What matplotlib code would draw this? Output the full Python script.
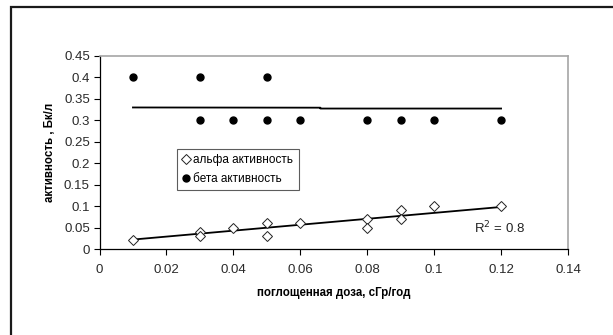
import matplotlib
matplotlib.use('Agg')
import matplotlib.pyplot as plt
import matplotlib.patches as mpatches

plt.rcParams['font.family'] = ['Liberation Sans', 'DejaVu Sans']

# alpha activity
alpha_x = [0.01, 0.03, 0.03, 0.04, 0.05, 0.05, 0.06, 0.08, 0.08, 0.09, 0.09, 0.10, 0.12]
alpha_y = [0.02, 0.04, 0.03, 0.05, 0.06, 0.03, 0.06, 0.07, 0.05, 0.09, 0.07, 0.10, 0.10]
# beta activity
beta_x = [0.01, 0.03, 0.05, 0.03, 0.04, 0.05, 0.06, 0.08, 0.09, 0.10, 0.12]
beta_y = [0.40, 0.40, 0.40, 0.30, 0.30, 0.30, 0.30, 0.30, 0.30, 0.30, 0.30]
# trend lines
alpha_fit_x = [0.01, 0.12]
alpha_fit_y = [0.022, 0.098]
beta_fit_x = [0.01, 0.066, 0.066, 0.12]
beta_fit_y = [0.330, 0.3295, 0.3275, 0.3275]

X_TICKS = [0, 0.02, 0.04, 0.06, 0.08, 0.1, 0.12, 0.14]
Y_TICKS = [0, 0.05, 0.1, 0.15, 0.2, 0.25, 0.3, 0.35, 0.4, 0.45]

fig = plt.figure(figsize=(6.13, 3.35), dpi=100)
fig.patch.set_facecolor('white')

# outer chart frame
frame = mpatches.Rectangle((11 / 613, -0.05), 1.1, 1 - 6.5 / 335 + 0.05,
                           transform=fig.transFigure, fill=False,
                           edgecolor='#1a1a1a', linewidth=1.6)
fig.patches.append(frame)

ax = fig.add_axes([99.5 / 613, 1 - 249 / 335, (568 - 99.5) / 613, (249 - 56) / 335])

ax.plot(alpha_fit_x, alpha_fit_y, color='black', linewidth=1.3, zorder=2)
ax.plot(beta_fit_x, beta_fit_y, color='black', linewidth=1.3, zorder=2)

ax.plot(alpha_x, alpha_y, linestyle='none', marker='D', markersize=5,
        markerfacecolor='white', markeredgecolor='#222222', markeredgewidth=0.7,
        label='альфа активность', zorder=3)
ax.plot(beta_x, beta_y, linestyle='none', marker='o', markersize=5,
        color='black', label='бета активность', zorder=3)

ax.set_xlim(0, 0.14)
ax.set_ylim(0, 0.45)
ax.set_xticks(X_TICKS)
ax.set_xticklabels(['0', '0.02', '0.04', '0.06', '0.08', '0.1', '0.12', '0.14'])
ax.set_yticks(Y_TICKS)
ax.set_yticklabels(['0', '0.05', '0.1', '0.15', '0.2', '0.25', '0.3', '0.35', '0.4', '0.45'])
ax.tick_params(axis='both', labelsize=9.5, direction='out', length=4, width=0.8,
               colors='black', labelcolor='#2a2a2a')
ax.tick_params(axis='x', pad=7)
ax.tick_params(axis='y', pad=3)

for side in ('top', 'right'):
    ax.spines[side].set_color('#a6a6a6')
    ax.spines[side].set_linewidth(1.2)
for side in ('left', 'bottom'):
    ax.spines[side].set_color('black')
    ax.spines[side].set_linewidth(0.9)

ax.set_xlabel('поглощенная доза, сГр/год', fontsize=8.3, fontweight='bold', labelpad=8)
ax.set_ylabel('активность , Бк/л', fontsize=8.3, fontweight='bold', labelpad=6)

ax.text(0.1118, 0.036, 'R$^2$ = 0.8', fontsize=9.5, color='#222222')

leg = ax.legend(loc='upper left', bbox_to_anchor=(0.166, 0.52), fontsize=8.5,
                frameon=True, fancybox=False, edgecolor='#333333',
                handlelength=0.6, handletextpad=0.3, borderpad=0.45,
                labelspacing=0.6, borderaxespad=0)
leg.get_frame().set_linewidth(0.8)

fig.savefig('out.png', dpi=100)
